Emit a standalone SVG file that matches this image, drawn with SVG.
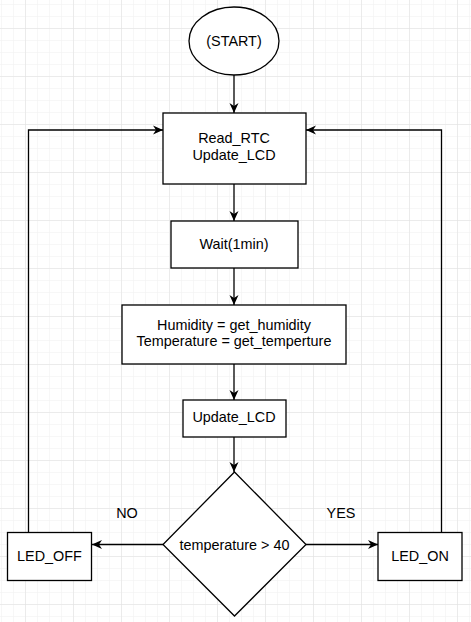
<svg xmlns="http://www.w3.org/2000/svg" width="471" height="622" viewBox="0 0 471 622">
<defs>
<pattern id="minor" x="1" y="4" width="12" height="12" patternUnits="userSpaceOnUse">
<path d="M0 0V12M0 0H12" fill="none" stroke="#f0f0f0" stroke-width="1"/>
</pattern>
<pattern id="major" x="25" y="28" width="48" height="48" patternUnits="userSpaceOnUse">
<path d="M0 0V48M0 0H48" fill="none" stroke="#e0e0e0" stroke-width="1"/>
</pattern>
<marker id="arr" markerUnits="userSpaceOnUse" markerWidth="12" markerHeight="10" refX="10" refY="5" orient="auto">
<path d="M0 0.5L10 5L0 9.5L3 5Z" fill="#000"/>
</marker>
<style>
.box{fill:#fff;stroke:#000;stroke-width:1.3}
.t{font-family:"Liberation Sans",Arial,sans-serif;font-size:14.4px;fill:#000;text-anchor:middle}
.c{fill:none;stroke:#000;stroke-width:1.3;marker-end:url(#arr)}
</style>
</defs>
<rect width="471" height="622" fill="#fff"/>
<rect width="471" height="622" fill="url(#minor)"/>
<rect width="471" height="622" fill="url(#major)"/>
<g id="connectors">
<path class="c" d="M234 75V113"/>
<path class="c" d="M234 184V221"/>
<path class="c" d="M234 268V305"/>
<path class="c" d="M234 364V400"/>
<path class="c" d="M234 437V472"/>
<path class="c" d="M163 544.5H92"/>
<path class="c" d="M306 544.5H378"/>
<path class="c" d="M28.5 532V130H163"/>
<path class="c" d="M441.5 532V130H306"/>
<text class="t" x="127" y="518">NO</text>
<text class="t" x="341" y="518">YES</text>
</g>
<g id="start">
<ellipse class="box" cx="234" cy="41" rx="45" ry="34"/>
<text class="t" x="234" y="46">(START)</text>
</g>
<g id="read_rtc">
<rect class="box" x="163" y="113" width="143" height="71"/>
<text class="t" x="234" y="143">Read_RTC</text>
<text class="t" x="234" y="159.5">Update_LCD</text>
</g>
<g id="wait">
<rect class="box" x="171" y="221" width="127" height="47"/>
<text class="t" x="234" y="248.5">Wait(1min)</text>
</g>
<g id="read_sensors">
<rect class="box" x="122" y="305" width="224" height="59"/>
<text class="t" x="234" y="329.5">Humidity = get_humidity</text>
<text class="t" x="234" y="346">Temperature = get_temperture</text>
</g>
<g id="update_lcd">
<rect class="box" x="183" y="400" width="103" height="37"/>
<text class="t" x="234" y="422">Update_LCD</text>
</g>
<g id="decision">
<path class="box" d="M234.5 472L306 544.5L234.5 616L163 544.5Z"/>
<text class="t" x="234.5" y="549.5">temperature &gt; 40</text>
</g>
<g id="led_off">
<rect class="box" x="7.5" y="532.5" width="84" height="48"/>
<text class="t" x="49.5" y="561">LED_OFF</text>
</g>
<g id="led_on">
<rect class="box" x="378" y="532.5" width="84" height="48"/>
<text class="t" x="420" y="561">LED_ON</text>
</g>
</svg>
